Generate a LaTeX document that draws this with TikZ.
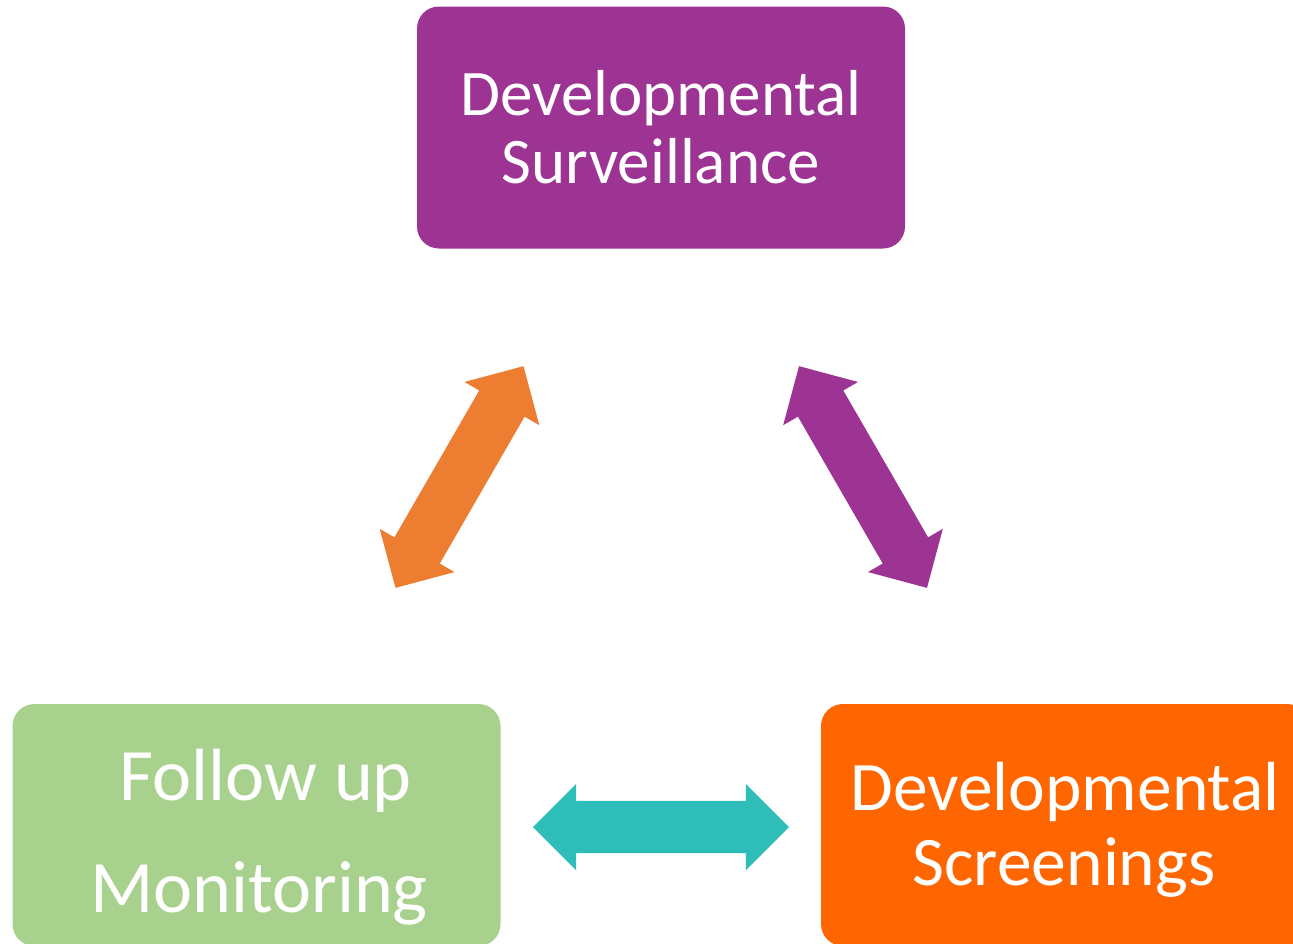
\documentclass[tikz,border=0pt]{standalone}
\usepackage{fontspec}
\setmainfont{Carlito}
\usetikzlibrary{shapes.arrows}
\definecolor{dpurple}{HTML}{9D3393}
\definecolor{dorange}{HTML}{ED7D31}
\definecolor{dteal}{HTML}{2FBDB9}
\definecolor{dgreen}{HTML}{A9D18E}
\definecolor{dbright}{HTML}{FF6600}
\tikzset{
  box/.style={draw=none, rounded corners=22pt, minimum width=488pt, minimum height=242pt, inner sep=0pt},
  lbl/.style={text=white, anchor=base, inner sep=0pt},
  barrow/.style={double arrow, double arrow tip angle=90, double arrow head extend=17pt,
    text height=26pt, text depth=26pt, text width=0pt,
    minimum height=256pt, minimum width=86pt, inner sep=0pt, draw=none},
}
\begin{document}
\begin{tikzpicture}[x=1pt,y=-1pt]
\clip (0,0) rectangle (1293,943);
\fill[white] (0,0) rectangle (1293,943);
% boxes
\node[box, fill=dpurple] (surv) at (661,127.5) {};
\node[box, fill=dgreen] (follow) at (256.5,825) {};
\node[box, fill=dbright] (screen) at (1065,825) {};
% labels
\node[lbl, font=\fontsize{65}{68}\selectfont] (survA) at (661,115) {Developmental};
\node[lbl, font=\fontsize{65}{68}\selectfont] (survB) at (661,183) {Surveillance};
\node[lbl, font=\fontsize{74}{76}\selectfont] (followA) at (266,800) {Follow up};
\node[lbl, font=\fontsize{74}{76}\selectfont] (followB) at (259,912) {Monitoring};
\node[lbl, font=\fontsize{69.5}{72}\selectfont] (screenA) at (1065,810) {Developmental};
\node[lbl, font=\fontsize{69.5}{72}\selectfont] (screenB) at (1064,885) {Screenings};
% arrows
\node[barrow, fill=dorange, rotate=60] (a1) at (459.5,477) {};
\node[barrow, fill=dpurple, rotate=-60] (a2) at (863,477) {};
\node[barrow, fill=dteal] (a3) at (661,827) {};
\end{tikzpicture}
\end{document}
